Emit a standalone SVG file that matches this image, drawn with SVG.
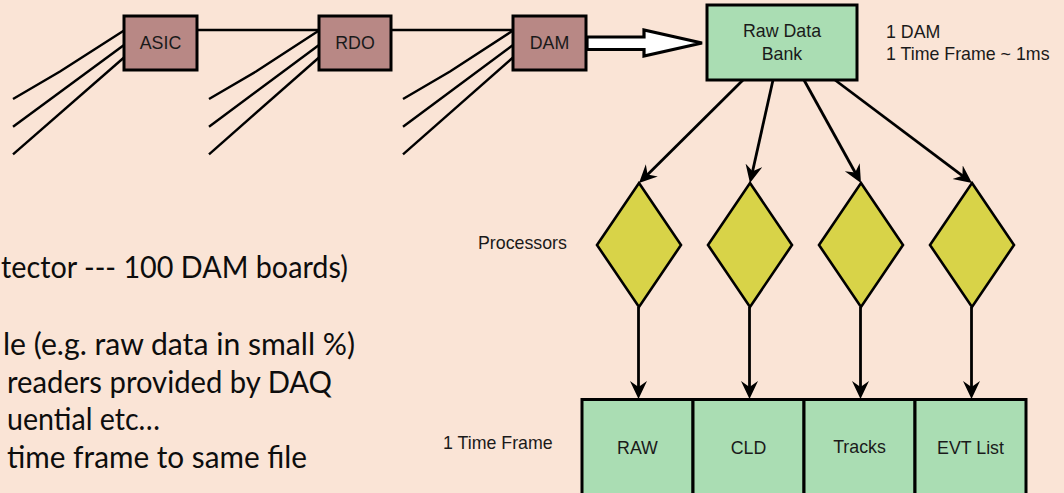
<svg xmlns="http://www.w3.org/2000/svg" width="1064" height="493" viewBox="0 0 1064 493">
  <defs>
    <style>
      .bg { fill: #FAE4D6; }
      .board { fill: #B88885; stroke: #000; stroke-width: 3; }
      .bank { fill: #AADDB3; stroke: #000; stroke-width: 3; }
      .proc { fill: #D8D348; stroke: #000; stroke-width: 2.6; stroke-linejoin: miter; }
      .lbl { font-family: "Liberation Sans", Arial, sans-serif; font-size: 17.8px; fill: #1a1a1a; }
      .mid { text-anchor: middle; }
      .wire { fill: none; stroke: #000; stroke-width: 2.4; }
      .flow { fill: none; stroke: #000; stroke-width: 2.8; marker-end: url(#head); }
      .bullet { font-family: Lato, "Open Sans", sans-serif; font-size: 31.5px; fill: #0d0d0d; }
    </style>
    <marker id="head" markerUnits="userSpaceOnUse" markerWidth="19" markerHeight="18" refX="10" refY="8.5" orient="auto">
      <path d="M0,0 L18,8.5 L0,17 L6,8.5 Z" fill="#000"/>
    </marker>
  </defs>

  <rect class="bg" x="0" y="0" width="1064" height="493"/>

  <!-- body text, clipped at the left edge -->
  <g id="notes">
    <text class="bullet" x="1" y="278" textLength="347" lengthAdjust="spacingAndGlyphs">tector --- 100 DAM boards)</text>
    <text class="bullet" x="3" y="355" textLength="352" lengthAdjust="spacingAndGlyphs">le (e.g. raw data in small %)</text>
    <text class="bullet" x="7" y="392.5" textLength="325" lengthAdjust="spacingAndGlyphs">readers provided by DAQ</text>
    <text class="bullet" x="7" y="430" textLength="153" lengthAdjust="spacingAndGlyphs">uential etc…</text>
    <text class="bullet" x="7" y="467.5" textLength="300" lengthAdjust="spacingAndGlyphs">time frame to same file</text>
  </g>

  <!-- connectors -->
  <g id="connectors">
    <!-- input fans -->
    <polyline class="wire" points="13,99 60,71.5 124,30.5"/>
    <line class="wire" x1="13" y1="126.7" x2="124" y2="45"/>
    <line class="wire" x1="13" y1="154.3" x2="124" y2="57.5"/>
    <polyline class="wire" points="209,99 256,71.5 319,30.5"/>
    <line class="wire" x1="209" y1="126.7" x2="319" y2="45"/>
    <line class="wire" x1="209" y1="154.3" x2="319" y2="57.5"/>
    <polyline class="wire" points="403,99 450,71.5 513,30.5"/>
    <line class="wire" x1="403" y1="126.7" x2="513" y2="45"/>
    <line class="wire" x1="403" y1="154.3" x2="513" y2="57.5"/>
    <!-- chain links -->
    <line class="wire" x1="197" y1="30" x2="319" y2="30"/>
    <line class="wire" x1="391" y1="30" x2="513" y2="30"/>
    <!-- DAM to bank, hollow block arrow -->
    <polygon points="587,37 644,37 644,30 702,43 644,56 644,49.5 587,49.5" fill="#fff" stroke="#000" stroke-width="3.2" stroke-linejoin="miter"/>
    <!-- bank to processors -->
    <line class="flow" x1="743" y1="80" x2="644.7" y2="177.4"/>
    <line class="flow" x1="773" y1="80" x2="751.7" y2="175.2"/>
    <line class="flow" x1="804" y1="80" x2="857.1" y2="176"/>
    <line class="flow" x1="835" y1="80" x2="965.6" y2="178.2"/>
    <!-- processors to output sections -->
    <line class="flow" x1="638.5" y1="307" x2="638.5" y2="391"/>
    <line class="flow" x1="749.5" y1="307" x2="749.5" y2="391"/>
    <line class="flow" x1="860.5" y1="307" x2="860.5" y2="391"/>
    <line class="flow" x1="971.5" y1="307" x2="971.5" y2="391"/>
  </g>

  <g id="asic">
    <rect class="board" x="124" y="16" width="73" height="54"/>
    <text class="lbl mid" x="160.5" y="48.5">ASIC</text>
  </g>
  <g id="rdo">
    <rect class="board" x="319" y="16" width="72" height="54"/>
    <text class="lbl mid" x="355" y="48.5">RDO</text>
  </g>
  <g id="dam">
    <rect class="board" x="513" y="16" width="73" height="54"/>
    <text class="lbl mid" x="549.5" y="48.5">DAM</text>
  </g>

  <g id="raw-data-bank">
    <rect class="bank" x="707" y="5" width="150" height="75"/>
    <text class="lbl mid" x="782" y="36.5">Raw Data</text>
    <text class="lbl mid" x="782" y="60">Bank</text>
  </g>
  <g id="bank-note">
    <text class="lbl" x="886" y="37.5">1 DAM</text>
    <text class="lbl" x="886" y="60">1 Time Frame ~ 1ms</text>
  </g>

  <g id="processors-label">
    <text class="lbl" x="478" y="249">Processors</text>
  </g>
  <g id="proc-1"><polygon class="proc" points="639,183 681,245 639,307 597,245"/></g>
  <g id="proc-2"><polygon class="proc" points="750,183 792,245 750,307 708,245"/></g>
  <g id="proc-3"><polygon class="proc" points="861,183 903,245 861,307 819,245"/></g>
  <g id="proc-4"><polygon class="proc" points="972,183 1014,245 972,307 930,245"/></g>

  <g id="frame-label">
    <text class="lbl" x="443" y="449">1 Time Frame</text>
  </g>
  <g id="out-raw">
    <rect class="bank" x="582" y="399.5" width="111" height="110"/>
    <text class="lbl mid" x="637.5" y="454">RAW</text>
  </g>
  <g id="out-cld">
    <rect class="bank" x="693" y="399.5" width="111" height="110"/>
    <text class="lbl mid" x="748.5" y="454">CLD</text>
  </g>
  <g id="out-tracks">
    <rect class="bank" x="804" y="399.5" width="111" height="110"/>
    <text class="lbl mid" x="859.5" y="453">Tracks</text>
  </g>
  <g id="out-evt">
    <rect class="bank" x="915" y="399.5" width="111" height="110"/>
    <text class="lbl mid" x="970.5" y="454">EVT List</text>
  </g>
</svg>
